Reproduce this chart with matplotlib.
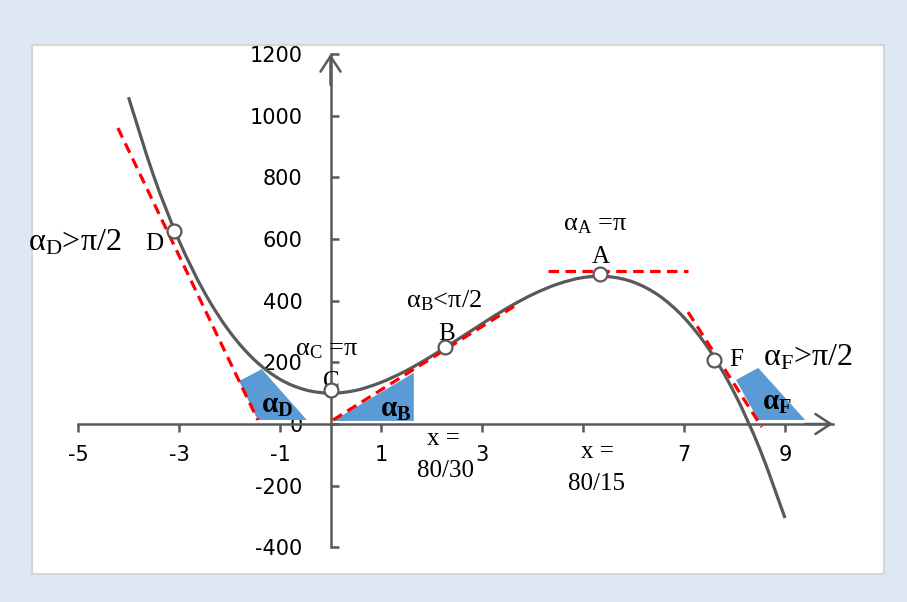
import numpy as np
import matplotlib
matplotlib.use("Agg")
import matplotlib.pyplot as plt
from matplotlib.path import Path
from matplotlib.patches import PathPatch, Polygon, Rectangle

# ---------------- data ----------------
curve_x = [-4.0, -3.5, -3.0, -2.5, -2.0, -1.5, -1.0, -0.5, 0.0, 0.5, 1.0, 1.5, 2.0,
           2.5, 3.0, 3.5, 4.0, 4.5, 5.0, 5.5, 6.0, 6.5, 7.0, 7.5, 8.0, 8.5, 9.0]
curve_y = [1060, 804, 595, 428, 300, 207, 145, 111, 100, 109, 135, 173, 220,
           272, 325, 376, 420, 454, 475, 478, 460, 417, 345, 241, 100, -81, -305]

point_names = ["A", "B", "C", "D", "F"]
point_x = [5.33, 2.27, 0.0, -3.1, 7.59]
point_y = [487, 250, 110, 627, 208]

tangent_D_x, tangent_D_y = [-4.21, -1.44], [960, 13]
tangent_B_x, tangent_B_y = [0.05, 3.65], [13, 383]
tangent_A_x, tangent_A_y = [4.31, 7.08], [495, 495]
tangent_F_x, tangent_F_y = [7.08, 8.54], [363, -10]

angle_D_x, angle_D_y = [-1.81, -1.36, -0.47, -1.44], [139, 178, 13, 13]
angle_B_x, angle_B_y = [0.05, 1.65, 1.65], [10, 166, 10]
angle_F_x, angle_F_y = [8.03, 8.47, 9.40, 8.47], [143, 182, 13, 13]

x_ticks = [-5, -3, -1, 1, 3, 5, 7, 9]
x_tick_labels = ["-5", "-3", "-1", "1", "3", "", "7", "9"]
y_ticks = [-400, -200, 0, 200, 400, 600, 800, 1000, 1200]
y_tick_labels = ["-400", "-200", "0", "200", "400", "600", "800", "1000", "1200"]

# ---------------- style ----------------
plt.rcParams["mathtext.fontset"] = "custom"
plt.rcParams["mathtext.rm"] = "Liberation Serif"
plt.rcParams["mathtext.it"] = "Liberation Serif:italic"
plt.rcParams["mathtext.bf"] = "Liberation Serif:bold"

GRAY = "#595959"
RED = "#ff0000"
BLUE = "#5b9bd5"
SERIF = "Liberation Serif"

fig = plt.figure(figsize=(9.07, 6.02), dpi=100)
fig.patch.set_facecolor("#dde8f4")
panel = Rectangle((32 / 907, 1 - 574 / 602), (884 - 32) / 907, (574 - 45) / 602,
                  transform=fig.transFigure, facecolor="white",
                  edgecolor="#d6d6d6", linewidth=1.5, zorder=0)
fig.add_artist(panel)

ax = fig.add_axes([0, 0, 1, 1])
ax.patch.set_visible(False)
ax.set_xlim(-330.5 / 50.5, (907 - 330.5) / 50.5)
ax.set_ylim((424 - 602) / 0.3083, 424 / 0.3083)

# axes through the origin
for s in ["top", "right"]:
    ax.spines[s].set_visible(False)
ax.spines["left"].set_position(("data", 0))
ax.spines["left"].set_bounds(-400, 1200)
ax.spines["bottom"].set_position(("data", 0))
ax.spines["bottom"].set_bounds(-5, 9.95)
for s in ["left", "bottom"]:
    ax.spines[s].set_color(GRAY)
    ax.spines[s].set_linewidth(1.8)

ax.set_xticks(x_ticks)
ax.set_xticklabels(x_tick_labels)
ax.set_yticks(y_ticks)
ax.set_yticklabels(y_tick_labels)
ax.tick_params(axis="x", direction="out", length=6, width=1.8, color=GRAY,
               pad=9, labelsize=15)
ax.tick_params(axis="y", direction="in", length=6, width=1.8, color=GRAY,
               pad=20, labelsize=15)
for lab in ax.get_xticklabels() + ax.get_yticklabels():
    lab.set_fontfamily("DejaVu Sans")
    lab.set_color("black")

arrow_style = dict(arrowstyle="->,head_length=0.55,head_width=0.36",
                   color=GRAY, lw=1.8, mutation_scale=20, shrinkA=0, shrinkB=0)
ax.annotate("", xy=(9.95, 0), xytext=(9.4, 0), arrowprops=arrow_style)
ax.annotate("", xy=(0, 1200), xytext=(0, 1100), arrowprops=arrow_style)

# ---------------- blue angle shapes ----------------
for xs, ys in [(angle_D_x, angle_D_y), (angle_B_x, angle_B_y), (angle_F_x, angle_F_y)]:
    ax.add_patch(Polygon(list(zip(xs, ys)), closed=True, facecolor=BLUE,
                         edgecolor="none", zorder=3))

# ---------------- smooth curve (Catmull-Rom as Bezier path) ----------------
P = np.column_stack([curve_x, curve_y]).astype(float)
ext = np.vstack([P[0], P, P[-1]])
verts = [tuple(P[0])]
codes = [Path.MOVETO]
for i in range(len(P) - 1):
    p0, p1, p2, p3 = ext[i], ext[i + 1], ext[i + 2], ext[i + 3]
    c1 = p1 + (p2 - p0) / 6.0
    c2 = p2 - (p3 - p1) / 6.0
    verts += [tuple(c1), tuple(c2), tuple(p2)]
    codes += [Path.CURVE4] * 3
ax.add_patch(PathPatch(Path(verts, codes), facecolor="none", edgecolor=GRAY,
                       linewidth=2.3, zorder=4, capstyle="butt"))

# ---------------- tangents ----------------
for xs, ys in [(tangent_D_x, tangent_D_y), (tangent_B_x, tangent_B_y),
               (tangent_A_x, tangent_A_y), (tangent_F_x, tangent_F_y)]:
    ax.plot(xs, ys, color=RED, lw=2.3, linestyle=(0, (3.3, 2.0)), zorder=5,
            dash_capstyle="butt")

# ---------------- labels ----------------
fs_big, fs_mid, fs_sml, fs_x = 23, 18, 19, 18
def t(x, y, s, size, ha="left", z=6, **kw):
    ax.text(x, y, s, family=SERIF, fontsize=size, ha=ha, va="baseline", zorder=z, **kw)

t(-5.99, 563, r"$\mathrm{\alpha_{D}}$>π/2", fs_big)
t(-3.673, 564, "D", fs_mid)
t(-0.70, 221, r"$\mathrm{\alpha_{C}}$ =π", fs_sml)
t(0.02, 117, "C", fs_mid, ha="center", z=5)
t(1.50, 379, r"$\mathrm{\alpha_{B}}$<π/2", fs_sml)
t(2.30, 272, "B", fs_mid, ha="center", z=5)
t(4.60, 629, r"$\mathrm{\alpha_{A}}$ =π", fs_sml)
t(5.35, 522, "A", fs_mid, ha="center", z=5)
t(7.89, 188, "F", fs_mid)
t(8.56, 191, r"$\mathrm{\alpha_{F}}$>π/2", fs_big)

t(-1.376, 36, r"$\mathbf{\alpha_{D}}$", 21)
t(0.98, 23, r"$\mathbf{\alpha_{B}}$", 21)
t(8.54, 45, r"$\mathbf{\alpha_{F}}$", 21)

t(2.23, -68, "x =", fs_x, ha="center")
t(2.27, -172, "80/30", fs_x, ha="center")
t(5.28, -110, "x =", fs_x, ha="center")
t(5.27, -214, "80/15", fs_x, ha="center")

# ---------------- points ----------------
ax.plot(point_x, point_y, linestyle="none", marker="o", markersize=10,
        markerfacecolor="white", markeredgecolor=GRAY, markeredgewidth=1.6, zorder=7)

fig.savefig("out.png", dpi=100, facecolor=fig.get_facecolor())
